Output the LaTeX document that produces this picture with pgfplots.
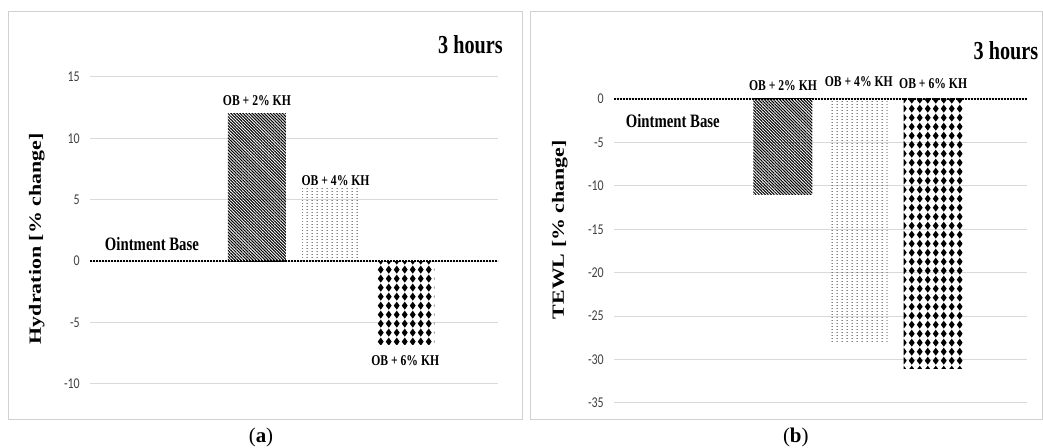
\documentclass[border=0pt]{standalone}
\usepackage{pgfplots}
\pgfplotsset{compat=1.18}
\usepackage{fontspec}
\setmainfont{Liberation Serif}
\newfontfamily\cond[FakeStretch=0.78]{Liberation Serif}
\newfontfamily\tickf[FakeStretch=0.8]{Carlito}
\usetikzlibrary{patterns,patterns.meta}
\definecolor{gridgray}{HTML}{D9D9D9}
\definecolor{boxgray}{HTML}{D0D0D0}
\definecolor{tickgray}{HTML}{404040}

\pgfdeclarepatternformonly{diamondgrid}{\pgfqpoint{0bp}{0bp}}{\pgfqpoint{7.7bp}{9.3bp}}{\pgfqpoint{7.7bp}{9.3bp}}{%
  \pgfpathmoveto{\pgfqpoint{3.85bp}{0.4bp}}%
  \pgfpathlineto{\pgfqpoint{6.9bp}{4.65bp}}%
  \pgfpathlineto{\pgfqpoint{3.85bp}{8.9bp}}%
  \pgfpathlineto{\pgfqpoint{0.8bp}{4.65bp}}%
  \pgfpathclose
  \pgfusepath{fill}%
}
\pgfdeclarepatternformonly{sparsedots}{\pgfqpoint{0bp}{0bp}}{\pgfqpoint{5bp}{3.4bp}}{\pgfqpoint{5bp}{3.4bp}}{%
  \pgfpathrectangle{\pgfqpoint{2bp}{1.2bp}}{\pgfqpoint{1.1bp}{1.1bp}}%
  \pgfusepath{fill}%
}

\pgfplotsset{
  common/.style={
    scale only axis, anchor=south west,
    xmin=-0.25, xmax=5.25,
    ybar, bar shift=0pt,
    axis line style={draw=none},
    xtick=\empty, major tick length=0pt,
    ymajorgrids, grid style={gridgray, line width=1bp},
    clip=false,
    yticklabel style={font=\tickf\fontsize{15}{17}\selectfont, text=tickgray, anchor=east, inner sep=0pt, xshift=-10bp},
  },
  stripes/.style={draw=none, pattern={Lines[angle=-45,distance=2.15bp,line width=1.05bp]}, pattern color=black},
  dotty/.style={draw=none, pattern=sparsedots, pattern color=black!75},
  diam/.style={draw=none, pattern=diamondgrid, pattern color=black},
}
\tikzset{
  lab/.style={font=\cond\bfseries\fontsize{15}{18}\selectfont, inner sep=0pt},
  base/.style={font=\cond\bfseries\fontsize{19}{22}\selectfont, inner sep=0pt},
  zeroline/.style={black, line width=2bp, dash pattern=on 1.5bp off 1.5bp},
}

\begin{document}
\begin{tikzpicture}
\useasboundingbox (0bp,0bp) rectangle (1043bp,448bp);
\draw[boxgray, line width=1bp] (8bp,28bp) rectangle (522.7bp,436bp);
\draw[boxgray, line width=1bp] (530.5bp,28bp) rectangle (1042.5bp,436bp);

% ---------- (a) Hydration ----------
\begin{axis}[common, at={(90bp,64bp)}, width=408bp, height=307bp,
  ymin=-10, ymax=15, ytick={-10,-5,0,5,10,15}, yticklabels={-10,-5,0,5,10,15},
  bar width=58bp]
\addplot[draw=none, fill=none] coordinates {(1,0)};
\addplot[stripes] coordinates {(2,12)};
\addplot[dotty] coordinates {(3,5.9)};
\addplot[diam] coordinates {(4,-6.8)};
\draw[zeroline] (axis cs:-0.25,0) -- (axis cs:5.25,0);
\node[lab] at (axis cs:2,13.1) {OB + 2\% KH};
\node[lab] at (axis cs:3.06,6.55) {OB + 4\% KH};
\node[lab] at (axis cs:4,-8.06) {OB + 6\% KH};
\node[base] at (axis cs:0.585,1.42) {Ointment Base};
\end{axis}

% ---------- (b) TEWL ----------
\begin{axis}[common, at={(614bp,45bp)}, width=413bp, height=304bp,
  ymin=-35, ymax=0, ytick={-35,-30,-25,-20,-15,-10,-5,0}, yticklabels={-35,-30,-25,-20,-15,-10,-5,0},
  bar width=59bp]
\addplot[draw=none, fill=none] coordinates {(1,0)};
\addplot[stripes] coordinates {(2,-11)};
\addplot[dotty] coordinates {(3,-28.1)};
\addplot[diam] coordinates {(4,-31)};
\draw[zeroline] (axis cs:-0.25,0) -- (axis cs:5.25,0);
\node[lab] at (axis cs:2,1.5) {OB + 2\% KH};
\node[lab] at (axis cs:3.01,1.96) {OB + 4\% KH};
\node[lab] at (axis cs:4,1.78) {OB + 6\% KH};
\node[base] at (axis cs:0.533,-2.57) {Ointment Base};
\end{axis}

% titles, axis titles, captions
\node[font=\cond\bfseries\fontsize{26}{30}\selectfont, inner sep=0pt] at (470.5bp,403bp) {3 hours};
\node[font=\cond\bfseries\fontsize{26}{30}\selectfont, inner sep=0pt] at (1006bp,397.5bp) {3 hours};
\node[rotate=90, inner sep=0pt] at (36.8bp,209.2bp) {\scalebox{1}[0.78]{\bfseries\fontsize{22}{26}\selectfont Hydration [\% change]}};
\node[rotate=90, inner sep=0pt] at (559.7bp,218.3bp) {\scalebox{1}[0.78]{\bfseries\fontsize{22}{26}\selectfont TEWL [\% change]}};
\node[font=\fontsize{21}{24}\selectfont, inner sep=0pt] at (261bp,10.5bp) {(\textbf{a})};
\node[font=\fontsize{21}{24}\selectfont, inner sep=0pt] at (795.8bp,11bp) {(\textbf{b})};
\end{tikzpicture}
\end{document}
